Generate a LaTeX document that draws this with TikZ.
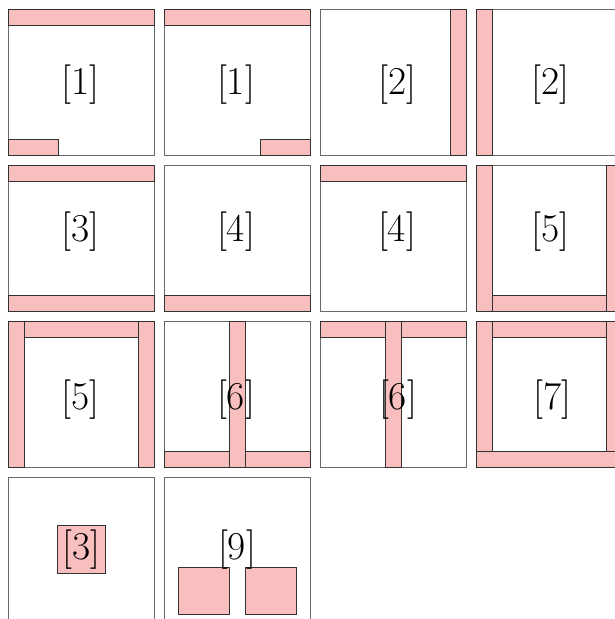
\documentclass[tikz,border=0pt]{standalone}
\usepackage{fontspec}
\definecolor{barpink}{RGB}{249,191,191}
\definecolor{sqline}{RGB}{105,105,105}
\definecolor{barline}{RGB}{50,50,50}
\begin{document}
\begin{tikzpicture}[x=1pt,y=-1pt,
  cell/.style={draw=sqline,line width=0.8pt,fill=white,minimum width=146pt,minimum height=146pt,inner sep=0pt,outer sep=0pt},
  bar/.style={draw=barline,line width=0.8pt,fill=barpink},
  lbl/.style={font=\fontsize{39.5}{47}\selectfont,inner sep=0pt},
  lblbox/.style={lbl,draw=barline,line width=0.8pt,fill=barpink,inner xsep=5pt,inner ysep=4pt}]
\useasboundingbox (0,0) rectangle (615,619);
\clip (0,0) rectangle (615,619);
% cells
\node[cell] (c1) at (81,82) {};
\node[cell] (c2) at (237,82) {};
\node[cell] (c3) at (393,82) {};
\node[cell] (c4) at (549,82) {};
\node[cell] (c5) at (81,238) {};
\node[cell] (c6) at (237,238) {};
\node[cell] (c7) at (393,238) {};
\node[cell] (c8) at (549,238) {};
\node[cell] (c9) at (81,394) {};
\node[cell] (c10) at (237,394) {};
\node[cell] (c11) at (393,394) {};
\node[cell] (c12) at (549,394) {};
\node[cell] (c13) at (81,550) {};
\node[cell] (c14) at (237,550) {};
% row 1
\draw[bar] (8,9) rectangle (154,25);
\draw[bar] (8,139) rectangle (58,155);
\draw[bar] (164,9) rectangle (310,25);
\draw[bar] (260,139) rectangle (310,155);
\draw[bar] (450,9) rectangle (466,155);
\draw[bar] (476,9) rectangle (492,155);
% row 2
\draw[bar] (8,165) rectangle (154,181);
\draw[bar] (8,295) rectangle (154,311);
\draw[bar] (164,295) rectangle (310,311);
\draw[bar] (320,165) rectangle (466,181);
\draw[bar] (476,165) rectangle (492,311);
\draw[bar] (606,165) rectangle (622,311);
\draw[bar] (492,295) rectangle (606,311);
% row 3
\draw[bar] (8,321) rectangle (24,467);
\draw[bar] (138,321) rectangle (154,467);
\draw[bar] (24,321) rectangle (138,337);
\draw[bar] (164,451) rectangle (310,467);
\draw[bar] (229,321) rectangle (245,467);
\draw[bar] (320,321) rectangle (466,337);
\draw[bar] (385,321) rectangle (401,467);
\draw[bar] (476,321) rectangle (622,337);
\draw[bar] (476,321) rectangle (492,467);
\draw[bar] (606,321) rectangle (622,467);
\draw[bar] (476,451) rectangle (622,467);
% row 4
\draw[bar] (178,567) rectangle (229,614);
\draw[bar] (245,567) rectangle (296,614);
% labels
\node[lbl] (l1) at (80.5,84.5) {[1]};
\node[lbl] (l2) at (236,84.5) {[1]};
\node[lbl] (l3) at (397.5,84.5) {[2]};
\node[lbl] (l4) at (550.5,84.5) {[2]};
\node[lbl] (l5) at (80.5,231.5) {[3]};
\node[lbl] (l6) at (236,231.5) {[4]};
\node[lbl] (l7) at (397,231.5) {[4]};
\node[lbl] (l8) at (550.5,231.5) {[5]};
\node[lbl] (l9) at (80.5,399.5) {[5]};
\node[lbl] (l10) at (236,399.5) {[6]};
\node[lbl] (l11) at (398,399.5) {[6]};
\node[lbl] (l12) at (552.5,399.5) {[7]};
\node[lblbox] (l13) at (81.5,549.5) {[3]};
\node[lbl] (l14) at (237,549.5) {[9]};
\end{tikzpicture}
\end{document}
